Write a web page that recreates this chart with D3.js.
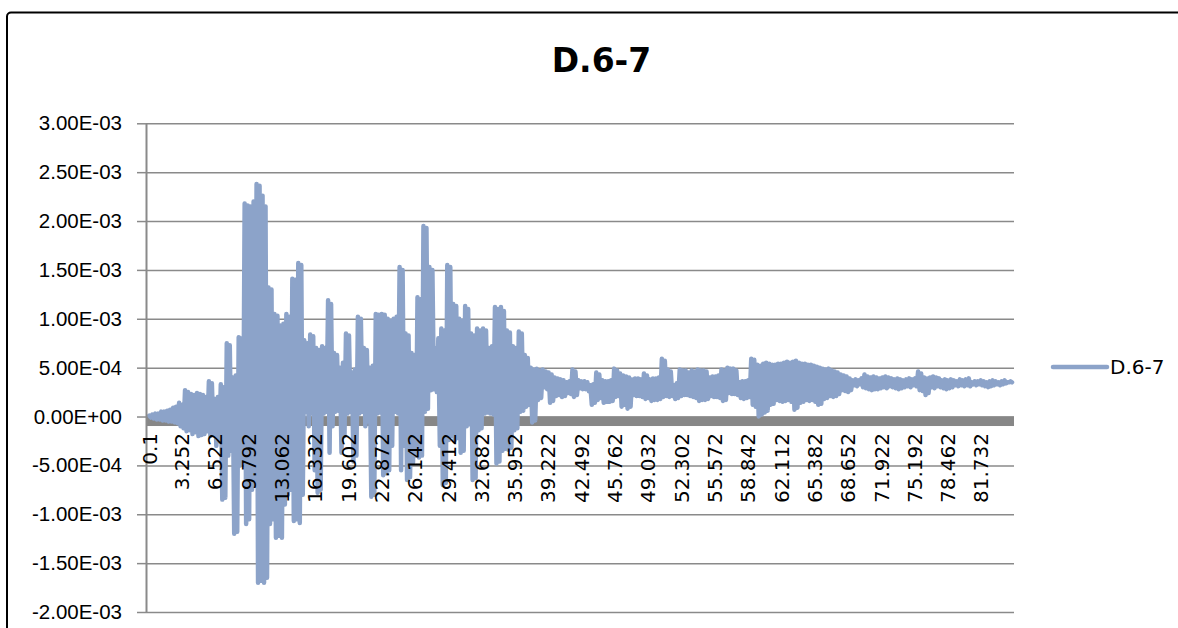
<!DOCTYPE html>
<html><head><meta charset="utf-8">
<script src="https://cdn.jsdelivr.net/npm/d3@7"></script>
<style>html,body{margin:0;padding:0;background:#fff;}svg{display:block}</style>
</head><body>
<script>
// ---------- data ----------
const chartTitle = "D.6-7";
const seriesName = "D.6-7";
const timeStart = 0.1, timeEnd = 84.8;
const xTickLabels = ["0.1","3.252","6.522","9.792","13.062","16.332","19.602","22.872","26.142","29.412","32.682","35.952","39.222","42.492","45.762","49.032","52.302","55.572","58.842","62.112","65.382","68.652","71.922","75.192","78.462","81.732"];
const yTickValues = [-0.002,-0.0015,-0.001,-0.0005,0,0.0005,0.001,0.0015,0.002,0.0025,0.003];
const yTickLabels = ["-2.00E-03","-1.50E-03","-1.00E-03","-5.00E-04","0.00E+00","5.00E-04","1.00E-03","1.50E-03","2.00E-03","2.50E-03","3.00E-03"];
// series values: successive peaks and troughs of the oscillating record, left to right
const values = [
0.1e-4,-0.1e-4,0.2e-4,-0.2e-4, 0.3e-4,-0.3e-4,0.3e-4,-0.3e-4, 0.5e-4,-0.4e-4,0.5e-4,-0.4e-4, 0.6e-4,-0.5e-4,0.7e-4,-0.5e-4,
0.9e-4,-0.6e-4,1.0e-4,-0.7e-4, 1.4e-4,-1.0e-4,1.2e-4,-1.2e-4, 2.7e-4,-1.5e-4,2.5e-4,-1.4e-4, 2.3e-4,-1.8e-4,2.2e-4,-1.6e-4,
2.4e-4,-2.0e-4,2.3e-4,-1.9e-4, 2.2e-4,-1.8e-4,2.0e-4,-1.5e-4, 3.6e-4,-2.0e-4,3.4e-4,-1.8e-4, 1.8e-4,-3.0e-4,2.0e-4,-2.5e-4,
3.3e-4,-8.5e-4,3.0e-4,-8.3e-4, 7.5e-4,-4.0e-4,7.3e-4,-3.5e-4, 4.0e-4,-12.0e-4,4.2e-4,-11.8e-4, 8.1e-4,-5.0e-4,8.0e-4,-4.5e-4,
21.8e-4,-11.0e-4,21.6e-4,-10.5e-4, 21.5e-4,-7.5e-4,22.0e-4,-7.0e-4, 23.8e-4,-17.0e-4,23.6e-4,-16.8e-4, 22.6e-4,-17.0e-4,21.5e-4,-16.5e-4,
13.2e-4,-11.0e-4,13.0e-4,-10.5e-4, 10.5e-4,-12.4e-4,10.3e-4,-12.2e-4, 9.3e-4,-12.4e-4,9.5e-4,-9.0e-4, 10.5e-4,-8.0e-4,10.2e-4,-7.5e-4,
14.1e-4,-10.7e-4,14.0e-4,-10.5e-4, 15.7e-4,-10.9e-4,15.5e-4,-8.0e-4, 7.8e-4,0.5e-4,7.5e-4,-1.0e-4, 8.4e-4,0.3e-4,8.2e-4,-5.5e-4,
7.0e-4,-7.8e-4,6.8e-4,-7.5e-4, 7.2e-4,0.3e-4,7.0e-4,0.5e-4, 11.9e-4,-3.7e-4,11.5e-4,-1.0e-4, 6.5e-4,0.5e-4,6.3e-4,0.6e-4,
5.0e-4,-3.7e-4,5.5e-4,-2.0e-4, 8.5e-4,0.3e-4,8.3e-4,0.5e-4, 4.5e-4,-4.6e-4,4.8e-4,-4.0e-4, 10.2e-4,0.3e-4,10.0e-4,0.5e-4,
7.0e-4,-1.0e-4,6.8e-4,-0.5e-4, 5.0e-4,-8.2e-4,5.2e-4,-8.0e-4, 10.5e-4,0.3e-4,10.4e-4,0.4e-4, 10.5e-4,-6.0e-4,10.4e-4,-5.8e-4,
10.0e-4,-5.5e-4,9.8e-4,-3.0e-4, 10.0e-4,0.5e-4,10.2e-4,0.3e-4, 15.3e-4,-5.5e-4,15.0e-4,-3.0e-4, 8.5e-4,-6.5e-4,8.3e-4,-6.2e-4,
6.5e-4,-4.7e-4,6.3e-4,-4.0e-4, 12.2e-4,-4.2e-4,12.0e-4,-4.0e-4, 19.5e-4,0.5e-4,19.3e-4,0.8e-4, 15.3e-4,2.7e-4,15.0e-4,2.8e-4,
7.0e-4,2.5e-4,8.0e-4,-3.0e-4, 9.0e-4,-7.0e-4,8.8e-4,-6.8e-4, 15.5e-4,-2.4e-4,15.3e-4,-2.0e-4, 11.5e-4,-2.4e-4,11.3e-4,-2.2e-4,
10.0e-4,-3.7e-4,9.8e-4,-3.5e-4, 11.3e-4,-1.0e-4,11.0e-4,-0.8e-4, 8.5e-4,-6.5e-4,8.3e-4,-6.3e-4, 9.0e-4,-1.4e-4,8.8e-4,-1.2e-4,
9.0e-4,0.3e-4,8.8e-4,0.4e-4, 7.0e-4,0.3e-4,7.2e-4,0.2e-4, 11.2e-4,-4.8e-4,11.0e-4,-4.6e-4, 11.2e-4,-3.5e-4,10.8e-4,-3.3e-4,
8.8e-4,-3.4e-4,8.6e-4,-3.2e-4, 7.2e-4,-1.4e-4,7.0e-4,-1.2e-4, 8.7e-4,0.5e-4,8.5e-4,0.6e-4, 6.3e-4,1.0e-4,6.0e-4,1.2e-4,
5.0e-4,-0.6e-4,4.8e-4,-0.4e-4, 4.9e-4,1.7e-4,4.7e-4,1.9e-4, 4.8e-4,3.0e-4,4.6e-4,2.8e-4, 4.5e-4,1.4e-4,4.3e-4,1.6e-4,
4.0e-4,2.1e-4,3.9e-4,2.2e-4, 3.8e-4,2.0e-4,3.7e-4,2.1e-4, 3.5e-4,2.4e-4,3.6e-4,2.3e-4, 4.8e-4,2.0e-4,4.6e-4,2.2e-4,
3.7e-4,2.9e-4,3.6e-4,2.8e-4, 3.6e-4,2.8e-4,3.5e-4,2.6e-4, 3.2e-4,1.2e-4,3.3e-4,1.4e-4, 4.5e-4,1.7e-4,4.3e-4,1.9e-4,
3.7e-4,1.4e-4,3.6e-4,1.5e-4, 3.6e-4,1.5e-4,3.7e-4,1.6e-4, 4.9e-4,2.0e-4,4.7e-4,2.1e-4, 4.4e-4,1.0e-4,4.2e-4,1.2e-4,
4.1e-4,0.8e-4,4.0e-4,1.0e-4, 3.8e-4,2.2e-4,3.9e-4,2.1e-4, 3.9e-4,2.1e-4,3.8e-4,2.0e-4, 4.4e-4,1.8e-4,4.2e-4,1.9e-4,
3.8e-4,1.6e-4,3.9e-4,1.7e-4, 3.9e-4,1.7e-4,4.0e-4,1.8e-4, 5.9e-4,2.0e-4,5.7e-4,2.1e-4, 4.8e-4,2.0e-4,4.6e-4,2.1e-4,
3.2e-4,1.8e-4,3.4e-4,1.9e-4, 4.8e-4,2.1e-4,4.7e-4,2.2e-4, 4.7e-4,2.2e-4,4.5e-4,2.1e-4, 4.7e-4,2.0e-4,4.6e-4,1.9e-4,
4.8e-4,1.6e-4,4.7e-4,1.7e-4, 4.7e-4,1.7e-4,4.6e-4,1.8e-4, 4.0e-4,2.1e-4,4.1e-4,2.0e-4, 4.1e-4,2.0e-4,4.2e-4,1.9e-4,
4.8e-4,1.6e-4,4.7e-4,1.7e-4, 5.0e-4,2.4e-4,4.9e-4,2.3e-4, 4.9e-4,2.3e-4,4.7e-4,2.2e-4, 3.5e-4,1.9e-4,3.6e-4,1.8e-4,
3.6e-4,1.9e-4,3.7e-4,2.0e-4, 5.9e-4,1.2e-4,5.8e-4,1.0e-4, 5.3e-4,0.0e-4,5.2e-4,0.2e-4, 5.4e-4,0.4e-4,5.5e-4,0.6e-4,
5.4e-4,1.2e-4,5.3e-4,1.3e-4, 5.3e-4,1.7e-4,5.4e-4,1.6e-4, 5.4e-4,1.5e-4,5.5e-4,1.6e-4, 5.6e-4,1.7e-4,5.5e-4,1.5e-4,
5.6e-4,0.7e-4,5.7e-4,0.9e-4, 5.5e-4,1.4e-4,5.4e-4,1.5e-4, 5.4e-4,1.7e-4,5.3e-4,1.6e-4, 5.3e-4,1.7e-4,5.2e-4,1.5e-4,
5.1e-4,1.2e-4,5.0e-4,1.3e-4, 4.9e-4,1.8e-4,4.8e-4,1.9e-4, 4.9e-4,2.1e-4,4.7e-4,2.0e-4, 4.6e-4,2.1e-4,4.5e-4,2.3e-4,
4.3e-4,2.7e-4,4.2e-4,2.6e-4, 4.1e-4,2.5e-4,3.9e-4,2.7e-4, 3.7e-4,3.2e-4,3.8e-4,3.1e-4, 3.7e-4,3.3e-4,3.9e-4,3.0e-4,
4.3e-4,2.9e-4,4.1e-4,2.8e-4, 4.0e-4,2.7e-4,4.1e-4,2.8e-4, 4.0e-4,2.8e-4,3.9e-4,2.9e-4, 4.0e-4,3.0e-4,4.1e-4,2.9e-4,
4.0e-4,3.1e-4,3.9e-4,3.0e-4, 3.8e-4,2.9e-4,3.9e-4,2.8e-4, 3.8e-4,2.9e-4,3.7e-4,3.0e-4, 3.8e-4,3.1e-4,3.9e-4,3.0e-4,
3.8e-4,3.2e-4,3.9e-4,3.1e-4, 4.6e-4,2.7e-4,4.4e-4,2.6e-4, 4.0e-4,2.2e-4,3.9e-4,2.4e-4, 4.0e-4,3.0e-4,4.1e-4,2.9e-4,
4.0e-4,3.1e-4,3.9e-4,3.0e-4, 3.7e-4,2.9e-4,3.8e-4,2.8e-4, 3.7e-4,2.9e-4,3.8e-4,3.0e-4, 3.7e-4,3.2e-4,3.6e-4,3.1e-4,
3.8e-4,3.2e-4,3.7e-4,3.1e-4, 3.8e-4,3.2e-4,3.9e-4,3.1e-4, 3.5e-4,3.3e-4,3.6e-4,3.2e-4, 3.6e-4,3.3e-4,3.7e-4,3.2e-4,
3.6e-4,3.1e-4,3.5e-4,3.0e-4, 3.6e-4,3.1e-4,3.7e-4,3.2e-4, 3.6e-4,3.3e-4,3.5e-4,3.2e-4, 3.6e-4,3.3e-4,3.7e-4,3.4e-4,
3.5e-4,3.5e-4,3.6e-4,3.5e-4
];

// ---------- drawing ----------
const W = 1178, H = 628;
const lineColor = "#8ca3c9";
const gridColor = "#8a8a8a";
const svg = d3.select("body").append("svg").attr("width", W).attr("height", H);
svg.append("rect").attr("width", W).attr("height", H).attr("fill", "#fff");
svg.append("rect").attr("x", 7).attr("y", 12.5).attr("width", 1200).attr("height", 660)
  .attr("rx", 4).attr("fill", "none").attr("stroke", "#000").attr("stroke-width", 2);

const plot = {left: 146, top: 123.3, width: 868, height: 488.7};
const x = d3.scaleLinear().domain([timeStart, timeEnd]).range([3.3, plot.width - 2]);
const xi = d3.scaleLinear().domain([0, values.length - 1]).range([x(timeStart), x(timeEnd)]);
const y = d3.scaleLinear().domain([-0.002, 0.003]).range([plot.height, 0]);

const g = svg.append("g").attr("transform", `translate(${plot.left},${plot.top})`);

// gridlines
const grid = g.append("g").call(d3.axisLeft(y).tickValues(yTickValues).tickSize(-plot.width).tickFormat(""));
grid.select(".domain").remove();
grid.selectAll("line").attr("stroke", gridColor).attr("stroke-width", 1.5);

// thick horizontal axis band at zero
g.append("rect").attr("x", 0).attr("y", y(0)).attr("width", plot.width).attr("height", 9.5).attr("fill", "#878787");

// series
g.append("path").datum(values)
  .attr("d", d3.line().x((d, i) => xi(i)).y(d => y(d)))
  .attr("fill", "none").attr("stroke", lineColor).attr("stroke-width", 4.5)
  .attr("stroke-linejoin", "round").attr("stroke-linecap", "round");

// y axis
const yAxis = g.append("g").call(d3.axisLeft(y).tickValues(yTickValues)
  .tickFormat((d, i) => yTickLabels[i]).tickSizeInner(9).tickSizeOuter(0).tickPadding(15));
yAxis.select(".domain").attr("stroke", gridColor).attr("stroke-width", 2);
yAxis.selectAll("line").attr("stroke", gridColor).attr("stroke-width", 1.5);
yAxis.selectAll("text").attr("font-family", "'Liberation Sans', Arial, sans-serif")
  .attr("font-size", 20.5).attr("fill", "#000");

// x axis (category labels, rotated)
const xTickValues = xTickLabels.map(Number);
const xAxis = g.append("g").attr("transform", `translate(0,${y(0)})`)
  .call(d3.axisBottom(x).tickValues(xTickValues).tickFormat((d, i) => xTickLabels[i]).tickSize(0));
xAxis.select(".domain").remove();
xAxis.selectAll("text")
  .attr("transform", "rotate(-90)").attr("text-anchor", "end")
  .attr("x", -16.5).attr("y", 0).attr("dy", "0.36em")
  .attr("font-family", "'DejaVu Sans', sans-serif").attr("font-size", 20).attr("fill", "#000");

// title
svg.append("text").attr("x", 601.5).attr("y", 72).attr("text-anchor", "middle")
  .attr("font-family", "'DejaVu Sans', sans-serif").attr("font-weight", "bold")
  .attr("font-size", 33).attr("fill", "#000").text(chartTitle);

// legend
const lg = svg.append("g").attr("transform", "translate(1053,367)");
lg.append("line").attr("x1", 0).attr("x2", 54).attr("y1", 0).attr("y2", 0)
  .attr("stroke", lineColor).attr("stroke-width", 4.5).attr("stroke-linecap", "round");
lg.append("text").attr("x", 57).attr("y", 0).attr("dy", "0.36em")
  .attr("font-family", "'DejaVu Sans', sans-serif").attr("font-size", 20).attr("fill", "#000").text(seriesName);
</script>
</body></html>
